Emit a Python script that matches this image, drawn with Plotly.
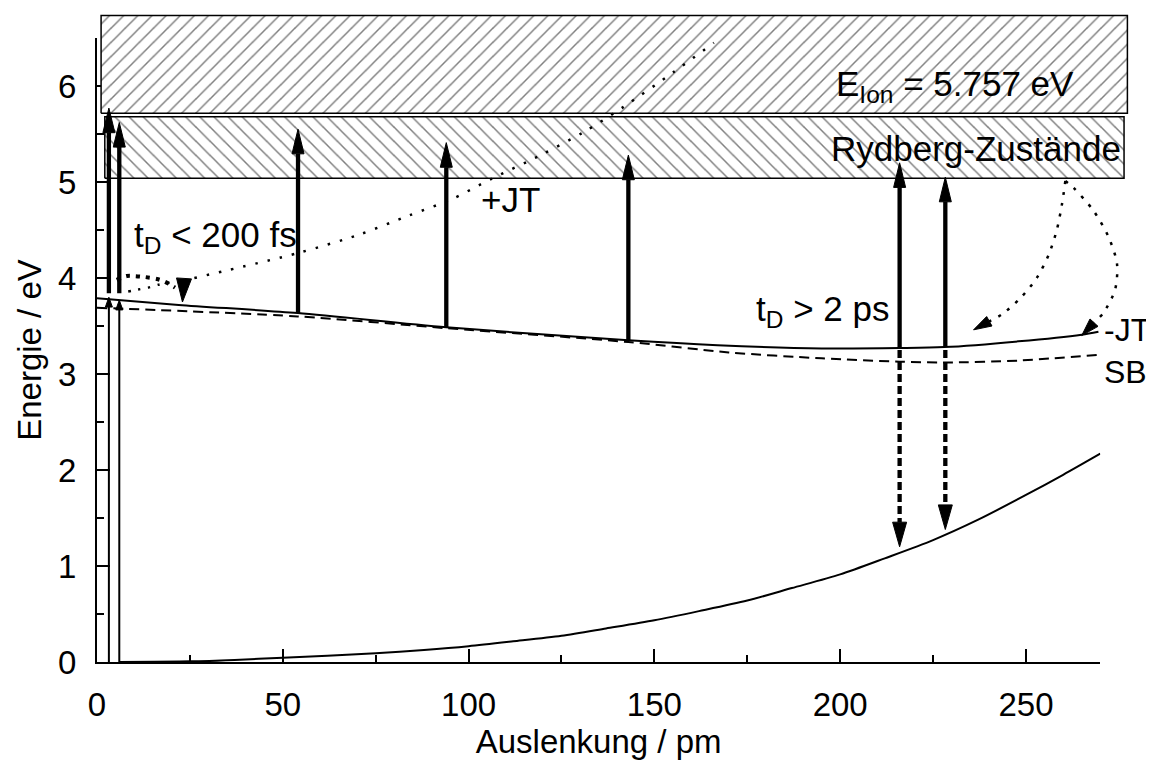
import math
import plotly.graph_objects as go

# ---------------- data ----------------
GROUND_X = [6, 25, 37, 50, 62, 75, 88, 100, 112, 125, 137, 150, 162, 175, 187, 200, 212, 225, 237, 250, 260, 270]
GROUND_Y = [0.0, 0.007, 0.022, 0.045, 0.066, 0.092, 0.125, 0.164, 0.215, 0.274, 0.35, 0.435, 0.53, 0.64,
            0.77, 0.913, 1.08, 1.27, 1.48, 1.74, 1.95, 2.17]

JT_X = [0, 22, 54, 94, 143, 167, 195, 216, 228, 248, 265, 269.5]
JT_Y = [3.79, 3.72, 3.635, 3.487, 3.351, 3.30, 3.266, 3.27, 3.28, 3.34, 3.41, 3.44]

SB_X = [0, 54, 94, 143, 170, 195, 216, 228, 248, 269.5]
SB_Y = [3.69, 3.60, 3.477, 3.333, 3.225, 3.163, 3.128, 3.12, 3.14, 3.20]

# hatched energy bands: [x0, x1, y0, y1]
ION_BAND = [1.1, 277.3, 5.715, 6.735]
RYD_BAND = [2.1, 276.4, 5.04, 5.68]

# thin excitation arrows from the ground state
THIN_X = [3.2, 6.0]
THIN_Y0 = [0.0, 0.0]
THIN_Y1 = [3.80, 3.77]

# thick probe arrows (upwards)
UP_X = [3.2, 6.0, 54.1, 94.0, 143.0, 216.0, 228.3]
UP_Y0 = [3.84, 3.84, 3.635, 3.487, 3.351, 3.27, 3.28]
UP_Y1 = [5.77, 5.62, 5.55, 5.41, 5.28, 5.20, 5.05]

# dashed relaxation arrows (downwards)
DOWN_X = [216.0, 228.3]
DOWN_Y0 = [3.25, 3.25]
DOWN_Y1 = [1.20, 1.38]

# dotted paths
PJT_X = [26.2, 54.1, 70.4, 83.9, 95.4, 106.0, 119.4, 131.0, 141.6, 155.0, 166.0]
PJT_Y = [4.0, 4.26, 4.45, 4.65, 4.82, 5.03, 5.28, 5.52, 5.78, 6.14, 6.45]

FAST_BIG_X = [5.3, 8.0, 10.2, 12.9, 16.1, 18.3, 21.0]
FAST_BIG_Y = [3.98, 4.02, 4.02, 4.01, 3.99, 3.96, 3.90]
FAST_SMALL_X = [8.4, 11.1, 13.8, 16.5, 19.5]
FAST_SMALL_Y = [3.86, 3.88, 3.90, 3.93, 3.95]
FAST_TIP = (23.0, 3.75)
FAST_FROM = (23.5, 4.05)

ARC_L_X = [260.6, 259.7, 258.3, 256.1, 252.9, 248.5, 243.5]
ARC_L_Y = [5.01, 4.77, 4.50, 4.24, 4.00, 3.79, 3.62]
ARC_L_TIP = (235.9, 3.46)
ARC_R_X = [260.6, 262.8, 268.2, 272.2, 274.5, 274.0, 270.9]
ARC_R_Y = [5.01, 4.94, 4.70, 4.43, 4.15, 3.88, 3.64]
ARC_R_TIP = (265.0, 3.40)

X_TICKS = [0, 50, 100, 150, 200, 250]
X_MINOR = [25, 75, 125, 175, 225]
Y_TICKS = [0, 1, 2, 3, 4, 5, 6]
Y_MINOR = [0.5, 1.5, 2.5, 3.5, 4.5, 5.5, 6.5]
X_AXIS_MAX = 270
Y_AXIS_MAX = 6.5

# ---------------- layout geometry ----------------
# the page body adds an 8px offset, so the figure is 8px smaller and margins shifted
OFF = 8
W, H = 1154 - OFF, 760 - OFF
ML, MR, MT, MB = 97 - OFF, 24, 14 - OFF, 88
X_EXT, Y_EXT = 278.0, 6.75
PLOT_W = W - ML - MR
PLOT_H = H - MT - MB
PX_X = PLOT_W / X_EXT
PX_Y = PLOT_H / Y_EXT

FONT = "Liberation Sans, Arial, sans-serif"
FS = 33

fig = go.Figure()


def head(tip, frm, length, width):
    dx = (tip[0] - frm[0]) * PX_X
    dy = (tip[1] - frm[1]) * PX_Y
    n = math.hypot(dx, dy)
    ux, uy = dx / n, dy / n
    tx, ty = tip[0] * PX_X, tip[1] * PX_Y
    bx, by = tx - ux * length, ty - uy * length
    nx, ny = -uy, ux
    xs = [tx, bx + nx * width / 2, bx - nx * width / 2, tx]
    ys = [ty, by + ny * width / 2, by - ny * width / 2, ty]
    return [v / PX_X for v in xs], [v / PX_Y for v in ys], (bx / PX_X, by / PX_Y)


def add_head(tip, frm, length, width):
    xs, ys, base = head(tip, frm, length, width)
    fig.add_trace(go.Scatter(x=xs, y=ys, mode="lines", fill="toself", fillcolor="black",
                             line=dict(color="black", width=1), xaxis="x2", yaxis="y2",
                             hoverinfo="skip", showlegend=False))
    return base


def add_line(xs, ys, width, dash="solid", axis2=True, shape="linear"):
    fig.add_trace(go.Scatter(x=xs, y=ys, mode="lines",
                             line=dict(color="black", width=width, dash=dash, shape=shape, smoothing=0.8),
                             xaxis="x2" if axis2 else "x", yaxis="y2" if axis2 else "y",
                             hoverinfo="skip", showlegend=False))


def add_band(b, pattern):
    x0, x1, y0, y1 = b
    fig.add_trace(go.Scatter(x=[x0, x1, x1, x0, x0], y=[y0, y0, y1, y1, y0], mode="lines",
                             fill="toself", fillcolor="white",
                             fillpattern=dict(shape=pattern, size=10, solidity=0.15,
                                              fgcolor="black", bgcolor="white"),
                             line=dict(color="black", width=1.5), xaxis="x2", yaxis="y2",
                             hoverinfo="skip", showlegend=False))


# potential curves (on the visible axes)
add_line(GROUND_X, GROUND_Y, 2, axis2=False, shape="spline")
add_line(JT_X, JT_Y, 2, axis2=False, shape="spline")
add_line(SB_X, SB_Y, 2, dash="10px,6px", axis2=False, shape="spline")

# bands
add_band(ION_BAND, "/")
add_band(RYD_BAND, "\\")

# thin excitation arrows
for x, y0, y1 in zip(THIN_X, THIN_Y0, THIN_Y1):
    base = add_head((x, y1), (x, y0), 10, 7)
    add_line([x, x], [y0, base[1]], 2)

# thick up arrows
for x, y0, y1 in zip(UP_X, UP_Y0, UP_Y1):
    base = add_head((x, y1), (x, y0), 25, 12)
    add_line([x, x], [y0, base[1]], 4.3)

# dashed down arrows
for x, y0, y1 in zip(DOWN_X, DOWN_Y0, DOWN_Y1):
    base = add_head((x, y1), (x, y0), 25, 14)
    add_line([x, x], [y0, base[1]], 4.3, dash="8px,4px")

# dotted paths
add_line(PJT_X, PJT_Y, 2.5, dash="2.5px,10px", shape="spline")
add_line(FAST_BIG_X, FAST_BIG_Y, 4, dash="4px,6px", shape="spline")
add_line(FAST_SMALL_X, FAST_SMALL_Y, 2.5, dash="2.5px,7.5px", shape="spline")
add_head(FAST_TIP, FAST_FROM, 24, 15)

bl = add_head(ARC_L_TIP, (ARC_L_X[-1], ARC_L_Y[-1]), 18, 11)
add_line(ARC_L_X + [bl[0]], ARC_L_Y + [bl[1]], 2.5, dash="3px,8px", shape="spline")
br = add_head(ARC_R_TIP, (ARC_R_X[-1], ARC_R_Y[-1]), 18, 11)
add_line(ARC_R_X + [br[0]], ARC_R_Y + [br[1]], 2.5, dash="3px,8px", shape="spline")

# texts: (text, x, y, anchor, font size)
LABELS = [
    ("E<sub>Ion</sub> = 5.757 eV", 231.0, 6.0, "center", 35),
    ("Rydberg-Zustände", 236.6, 5.35, "center", 35),
    ("+JT", 111.2, 4.82, "center", 35),
    ("t<sub>D</sub> < 200 fs", 9.8, 4.43, "left", 35),
    ("t<sub>D</sub> > 2 ps", 177.1, 3.66, "left", 35),
    ("-JT", 270.8, 3.46, "left", 32),
    ("SB", 270.6, 3.02, "left", 32),
]
for txt, x, y, anc, fs in LABELS:
    fig.add_annotation(text=txt, x=x, y=y, xref="x2", yref="y2", showarrow=False, borderpad=0,
                       xanchor=anc, yanchor="middle", font=dict(size=fs, color="black", family=FONT))

axis_common = dict(showgrid=False, zeroline=False, showline=True, linecolor="black", linewidth=2,
                   ticks="inside", tickcolor="black", tickwidth=2, ticklen=13,
                   tickfont=dict(size=FS, color="black", family=FONT))

fig.update_layout(
    width=W, height=H,
    margin=dict(l=ML, r=MR, t=MT, b=MB, pad=0),
    paper_bgcolor="white", plot_bgcolor="rgba(0,0,0,0)",
    showlegend=False,
    xaxis=dict(range=[0, X_AXIS_MAX], domain=[0, X_AXIS_MAX / X_EXT], anchor="y",
               tickmode="array", tickvals=X_TICKS, ticklabelstandoff=12,
               minor=dict(tickvals=X_MINOR, ticks="inside", ticklen=7, tickwidth=2, tickcolor="black",
                          showgrid=False),
               title=dict(text="Auslenkung / pm", font=dict(size=FS, color="black", family=FONT), standoff=8),
               **axis_common),
    yaxis=dict(range=[0, Y_AXIS_MAX], domain=[0, Y_AXIS_MAX / Y_EXT], anchor="x",
               tickmode="array", tickvals=Y_TICKS, ticklabelstandoff=12,
               minor=dict(tickvals=Y_MINOR, ticks="inside", ticklen=7, tickwidth=2, tickcolor="black",
                          showgrid=False),
               title=dict(text="Energie / eV", font=dict(size=FS, color="black", family=FONT), standoff=6),
               **axis_common),
    xaxis2=dict(range=[0, X_EXT], domain=[0, 1], anchor="y2", visible=False, showgrid=False, zeroline=False),
    yaxis2=dict(range=[0, Y_EXT], domain=[0, 1], anchor="x2", visible=False, showgrid=False, zeroline=False),
)

fig.write_html("out.html")
